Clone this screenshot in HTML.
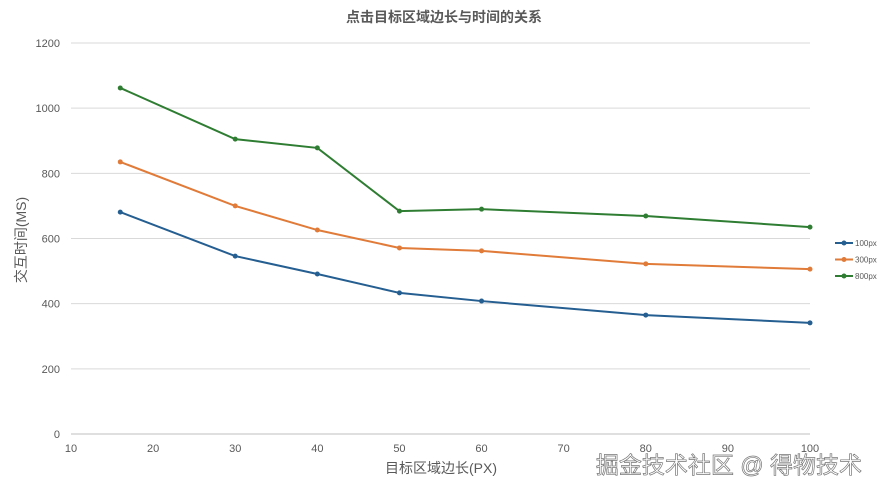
<!DOCTYPE html>
<html><head><meta charset="utf-8"><style>
body{margin:0;background:#fff;font-family:"Liberation Sans","Noto Sans CJK SC",sans-serif;}
svg text{font-family:"Liberation Sans","Noto Sans CJK SC",sans-serif;}
</style></head><body>
<svg id="c" width="889" height="494" xmlns="http://www.w3.org/2000/svg">
<rect width="889" height="494" fill="#fff"/>
<text x="444" y="22" text-anchor="middle" font-size="14" font-weight="bold" fill="#595959">点击目标区域边长与时间的关系</text>
<text x="26" y="240" text-anchor="middle" font-size="14" fill="#595959" transform="rotate(-90 26 240)">交互时间(MS)</text>
<text x="441" y="473" text-anchor="middle" font-size="14" fill="#595959">目标区域边长(PX)</text>
<text x="729" y="473" text-anchor="middle" font-size="23" fill="#fff" stroke="#777" stroke-width="0.7">掘金技术社区 @ 得物技术</text>
<g id="grid"></g><g id="series"></g><g id="legend"></g>
</svg>
<script>
const xTicks=[10,20,30,40,50,60,70,80,90,100];
const yTicks=[0,200,400,600,800,1000,1200];
const xValues=[16,30,40,50,60,80,100];
const seriesNames=["100px","300px","800px"];
const s100=[681,546,491,433,408,365,341];
const s300=[835,700,626,571,562,522,506];
const s800=[1062,905,878,684,690,669,635];
const colors=["#255e91","#e07b39","#2e7d32"];
const NS="http://www.w3.org/2000/svg";
const X=v=>71+(v-10)*(810-71)/90;
const Y=v=>434-v*(434-43)/1200;
function mk(t,a,p){const e=document.createElementNS(NS,t);for(const k in a)e.setAttribute(k,a[k]);p.appendChild(e);return e;}
const g=document.getElementById('grid');
yTicks.forEach(v=>{
 const l=mk('line',{x1:71,x2:810,y1:Y(v),y2:Y(v),stroke:v===0?'#bfbfbf':'#d9d9d9','stroke-width':1},g);
 
 
 const t=mk('text',{x:60,y:Y(v)+4,'text-anchor':'end','font-size':11,fill:'#595959'},g);t.textContent=v;
 
 
});
xTicks.forEach(v=>{
 const t=mk('text',{x:X(v),y:452,'text-anchor':'middle','font-size':11,fill:'#595959'},g);t.textContent=v;
 
 
});
const sg=document.getElementById('series');
[s100,s300,s800].forEach((d,i)=>{
 const p=mk('polyline',{points:d.map((v,j)=>X(xValues[j])+','+Y(v)).join(' '),fill:'none',stroke:colors[i],'stroke-width':2},sg);
 
 
 d.forEach((v,j)=>{const c=mk('circle',{cx:X(xValues[j]),cy:Y(v),r:2.5,fill:colors[i]},sg);
  
  });
});
const lg=document.getElementById('legend');
seriesNames.forEach((n,i)=>{
 const y=243+i*16.5;
 const l=mk('line',{x1:835,x2:853,y1:y,y2:y,stroke:colors[i],'stroke-width':2},lg);
 
 
 mk('circle',{cx:844,cy:y,r:2.5,fill:colors[i]},lg);
 const t=mk('text',{x:855,y:y+3,'font-size':8,fill:'#595959'},lg);t.textContent=n;
 
 
});
</script>
</body></html>
